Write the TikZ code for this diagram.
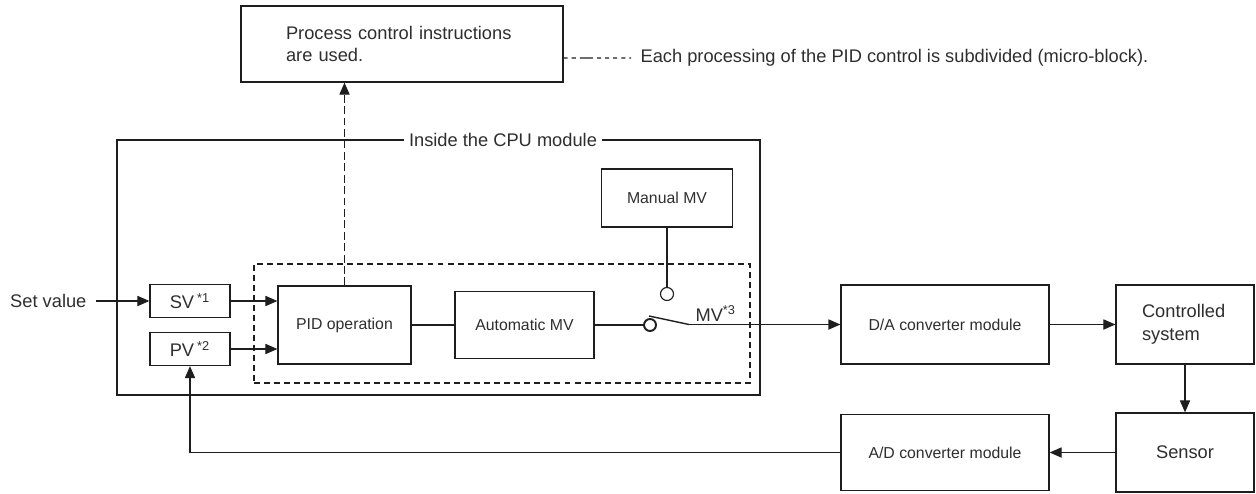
\documentclass[tikz,border=0pt]{standalone}
\usepackage{fontspec}
\setmainfont{Liberation Sans}
\usetikzlibrary{arrows.meta}
\definecolor{PCLine}{HTML}{1E1E1E}
\definecolor{PCText}{HTML}{2E2E2E}

\begin{document}
\begin{tikzpicture}[x=0.02cm,y=-0.02cm,color=PCLine,text=PCText,line width=0.65pt,
  big/.style={font=\fontsize{10.4}{13}\selectfont},
  small/.style={font=\fontsize{9}{11}\selectfont},
  blk/.style={draw=PCLine,line width=0.75pt,rectangle,inner sep=0pt},
  sig/.style={-{Triangle[length=6.8pt,width=5.8pt]}},
  finedash/.style={dash pattern=on 3.4pt off 2.3pt}]
\path[use as bounding box] (0,0) rectangle (1256,493);
% process control instructions
\node[blk,big,minimum width=6.44cm,minimum height=1.52cm,text width=4.64cm,inner xsep=0.9cm,align=left] (instr) at (402,44) {Process control instructions\\are used.};
\node[big,anchor=west,inner xsep=0.18cm,inner ysep=0pt] (note) at (631,58) {Each processing of the PID control is subdivided (micro-block).};
\draw[dash pattern=on 2.3pt off 2.3pt on 2.3pt off 2.3pt on 7.5pt off 2.3pt on 2.3pt off 2.3pt on 2.3pt off 2.3pt on 2.3pt] ([yshift=-0.28cm]instr.east) -- (note.west);
% CPU module
\node[blk,minimum width=12.86cm,minimum height=5.1cm] (cpu) at (438.5,267.5) {};
\node[big,fill=white,inner xsep=2.8pt,inner ysep=1pt] (cpulbl) at (503,140) {Inside the CPU module};
\node[draw=PCLine,finedash,minimum width=9.92cm,minimum height=2.38cm,inner sep=0pt] (micro) at (502,323.5) {};
% inputs
\node[big,anchor=east,inner xsep=0.18cm,inner ysep=0pt] (setval) at (96,301) {Set value};
\node[blk,big,minimum width=1.6cm,minimum height=0.66cm] (sv) at (190,301) {SV\,\textsuperscript{*1}};
\node[blk,big,minimum width=1.6cm,minimum height=0.66cm] (pv) at (190,349) {PV\,\textsuperscript{*2}};
\node[blk,small,minimum width=2.66cm,minimum height=1.56cm] (pid) at (344.5,325) {PID operation};
\node[blk,small,minimum width=2.78cm,minimum height=1.34cm] (auto) at (524.5,325) {Automatic MV};
\node[blk,small,minimum width=2.62cm,minimum height=1.16cm] (manual) at (667,198) {Manual MV};
% switch
\node[circle,draw=PCLine,line width=1.1pt,minimum size=0.24cm,inner sep=0pt] (swauto) at (650,325) {};
\node[circle,draw=PCLine,minimum size=0.26cm,inner sep=0pt] (swman) at (667,294) {};
\coordinate (armA) at (649,316);
\coordinate (armB) at (689,324.5);
\node[big,anchor=base west,inner sep=0pt] (mvlbl) at (695,321) {MV\textsuperscript{*3}};
% outside
\node[blk,small,minimum width=4.16cm,minimum height=1.58cm] (da) at (945,324.5) {D/A converter module};
\node[blk,big,minimum width=2.76cm,minimum height=1.58cm,text width=1.72cm,inner xsep=0.52cm,align=left] (plant) at (1185,324.5) {Controlled\\system};
\node[blk,big,minimum width=2.76cm,minimum height=1.58cm] (sensor) at (1185,452.5) {Sensor};
\node[blk,small,minimum width=4.16cm,minimum height=1.52cm] (ad) at (945,452.5) {A/D converter module};
% connectors
\draw[sig] (setval) -- (sv);
\draw[sig] (sv) -- (sv -| pid.west);
\draw[sig] (pv) -- (pv -| pid.west);
\draw[sig,dash pattern=on 4.5pt off 2pt] (pid.north) -- (pid.north |- instr.south);
\draw (pid.east) -- (auto.west);
\draw (auto.east) -- (swauto.west);
\draw (manual) -- (swman);
\draw[line width=0.8pt] (armA) -- (armB);
\draw[sig] (armB) -- (da.west);
\draw[sig] (da) -- (plant);
\draw[sig] (plant) -- (sensor);
\draw[sig] (sensor) -- (ad);
\draw[sig] (ad.west) -| (pv.south);
\end{tikzpicture}
\end{document}
